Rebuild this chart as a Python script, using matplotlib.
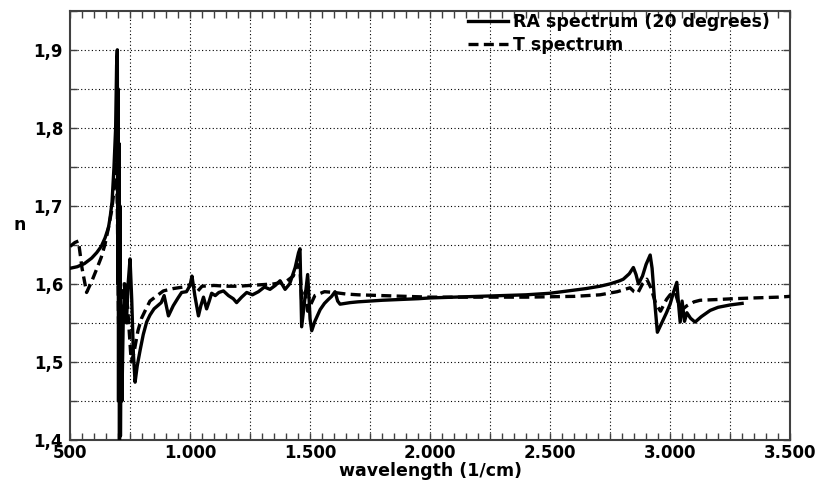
import numpy as np
from matplotlib import pyplot as plt
from matplotlib.ticker import MultipleLocator, FuncFormatter

# RA spectrum (20 degrees)
ra_wave = [500, 530, 560, 590, 611, 630, 646, 660, 667, 675, 683, 690, 694, 697, 699, 700,
           702, 704, 706, 708, 710, 713, 716, 722, 728, 735, 742, 750, 757, 764, 771, 780,
           792, 805, 819, 833, 850, 865, 880, 892, 910, 930, 950, 965, 985, 1000, 1008, 1020,
           1035, 1045, 1056, 1069, 1080, 1090, 1105, 1120, 1139, 1160, 1180, 1194, 1215, 1236,
           1260, 1285, 1310, 1333, 1355, 1375, 1396, 1415, 1438, 1452, 1458, 1465, 1478, 1490,
           1496, 1500, 1507, 1520, 1542, 1560, 1576, 1590, 1604, 1615, 1625, 1645, 1667, 1700,
           1750, 1800, 1875, 1950, 2000, 2100, 2200, 2300, 2400, 2500, 2600, 2650, 2708, 2750,
           2790, 2805, 2830, 2847, 2858, 2868, 2885, 2900, 2917, 2925, 2935, 2947, 2965, 2985,
           3000, 3015, 3028, 3035, 3042, 3050, 3060, 3070, 3085, 3104, 3130, 3167, 3200, 3250,
           3300]
ra_n = [1.620, 1.622, 1.626, 1.633, 1.640, 1.648, 1.659, 1.672, 1.685, 1.705, 1.749, 1.800,
        1.880, 1.900, 1.600, 1.850, 1.450, 1.780, 1.400, 1.700, 1.405, 1.550, 1.450, 1.560,
        1.600, 1.550, 1.600, 1.632, 1.580, 1.510, 1.474, 1.495, 1.515, 1.535, 1.551, 1.560,
        1.568, 1.572, 1.576, 1.585, 1.559, 1.572, 1.582, 1.589, 1.590, 1.598, 1.610, 1.585,
        1.559, 1.572, 1.583, 1.568, 1.578, 1.588, 1.585, 1.589, 1.591, 1.585, 1.581, 1.576,
        1.583, 1.589, 1.586, 1.590, 1.596, 1.593, 1.598, 1.604, 1.593, 1.600, 1.621, 1.640,
        1.645, 1.545, 1.580, 1.612, 1.580, 1.555, 1.540, 1.552, 1.567, 1.575, 1.580, 1.584,
        1.590, 1.578, 1.574, 1.575, 1.576, 1.577, 1.578, 1.579, 1.580, 1.581, 1.582, 1.583,
        1.584, 1.585, 1.586, 1.588, 1.592, 1.594, 1.597, 1.600, 1.604, 1.606, 1.613, 1.621,
        1.612, 1.600, 1.610, 1.625, 1.637, 1.620, 1.580, 1.538, 1.550, 1.563, 1.574, 1.590,
        1.602, 1.575, 1.551, 1.578, 1.552, 1.563, 1.556, 1.551, 1.558, 1.566, 1.570, 1.573,
        1.575]

# T spectrum
t_wave = [500, 520, 535, 550, 569, 590, 611, 630, 646, 660, 674, 685, 692, 697, 702, 710,
          725, 740, 755, 765, 783, 798, 812, 833, 854, 889, 930, 972, 1008, 1030, 1050, 1100,
          1150, 1200, 1250, 1300, 1350, 1400, 1430, 1448, 1458, 1468, 1480, 1490, 1505, 1520,
          1560, 1600, 1650, 1700, 1800, 1900, 2000, 2200, 2400, 2600, 2708, 2780, 2833, 2850,
          2865, 2885, 2903, 2920, 2940, 2960, 2985, 3000, 3020, 3035, 3050, 3070, 3100, 3125,
          3200, 3264, 3350, 3450, 3500]
t_n = [1.648, 1.653, 1.655, 1.620, 1.589, 1.603, 1.619, 1.634, 1.651, 1.672, 1.695, 1.725,
       1.757, 1.700, 1.550, 1.560, 1.600, 1.570, 1.500, 1.510, 1.540, 1.556, 1.565, 1.578,
       1.583, 1.591, 1.594, 1.596, 1.600, 1.590, 1.597, 1.598, 1.597, 1.597, 1.598, 1.599,
       1.600, 1.603, 1.610, 1.625, 1.620, 1.560, 1.590, 1.565, 1.575, 1.585, 1.590, 1.589,
       1.587, 1.586, 1.585, 1.584, 1.583, 1.583, 1.583, 1.584, 1.586, 1.590, 1.595, 1.590,
       1.588, 1.600, 1.606, 1.595, 1.575, 1.565, 1.580, 1.586, 1.590, 1.575, 1.567, 1.572,
       1.577, 1.579, 1.580, 1.581, 1.582, 1.583, 1.584]

plt.rcParams['font.family'] = ['DejaVu Sans']
plt.rcParams['font.weight'] = 'bold'

fig = plt.figure(figsize=[8.22, 4.91], dpi=100)
ax = fig.add_axes([0.0852, 0.104, 0.876, 0.874])

# dotted grid every 250 in x and 0.05 in y
for gx in np.arange(750, 3500, 250):
    ax.axvline(gx, color='black', lw=0.8, ls=(0, (1, 2.2)), zorder=1)
for gy in np.arange(1.45, 1.95, 0.05):
    ax.axhline(gy, color='black', lw=0.8, ls=(0, (1, 2.2)), zorder=1)

ax.plot(ra_wave, ra_n, color='black', lw=2.4, label='RA spectrum (20 degrees)', zorder=3)
ax.plot(t_wave, t_n, color='black', lw=2.4, ls=(0, (3, 1.6)), label='T spectrum', zorder=3)

ax.set_xlim(500, 3500)
ax.set_ylim(1.4, 1.95)

ax.xaxis.set_major_locator(MultipleLocator(500))
ax.xaxis.set_minor_locator(MultipleLocator(50))
ax.yaxis.set_major_locator(MultipleLocator(0.1))
ax.yaxis.set_minor_locator(MultipleLocator(0.05))
ax.xaxis.set_major_formatter(FuncFormatter(lambda v, p: f"{int(round(v)):,}".replace(",", ".")))
ax.yaxis.set_major_formatter(FuncFormatter(lambda v, p: f"{v:.1f}".replace(".", ",")))

ax.tick_params(which='both', direction='in', top=True, right=True, labelsize=12, color='#404040')
ax.tick_params(which='major', length=5, width=1, pad=3)
ax.tick_params(which='minor', length=5, width=1)
ax.tick_params(axis='y', pad=5)
for s in ax.spines.values():
    s.set_color('#404040')
    s.set_linewidth(1.5)

ax.set_xlabel("wavelength (1/cm)", fontsize=12.5, fontweight='bold', labelpad=0)
ax.set_ylabel("n", fontsize=12.5, fontweight='bold', rotation=0, labelpad=10, va='center')

ax.legend(loc='upper right', frameon=False, fontsize=12.5, handlelength=2.3, handletextpad=0.3,
          labelspacing=0.25, borderpad=0.1, borderaxespad=0, bbox_to_anchor=(0.975, 0.998))

fig.savefig("out.png", dpi=100)
